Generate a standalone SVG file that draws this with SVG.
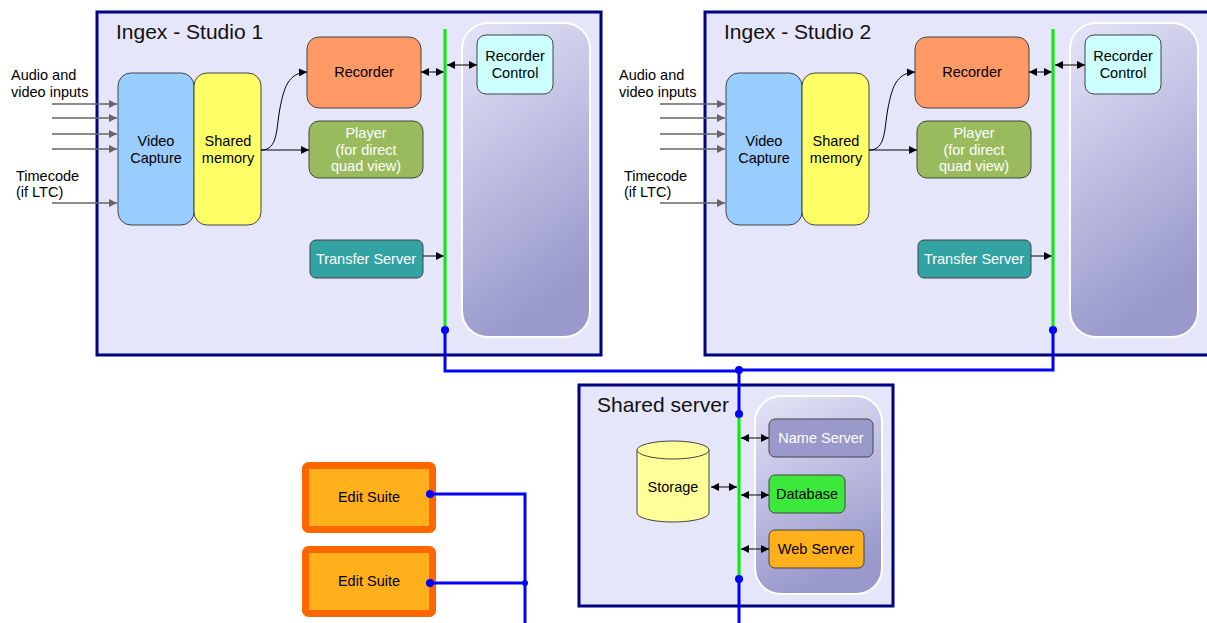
<svg xmlns="http://www.w3.org/2000/svg" width="1207" height="623" viewBox="0 0 1207 623">
<defs>
<linearGradient id="panel" x1="0" y1="0" x2="0.3" y2="1">
<stop offset="0" stop-color="#e4e4f8"/>
<stop offset="1" stop-color="#9999cc"/>
</linearGradient>
<marker id="ah" viewBox="0 0 10 10" refX="10" refY="5" markerWidth="10" markerHeight="8" markerUnits="userSpaceOnUse" orient="auto-start-reverse">
<path d="M0,0 L10,5 L0,10 z" fill="#000"/>
</marker>
<marker id="ahg" viewBox="0 0 10 10" refX="10" refY="5" markerWidth="10" markerHeight="8" markerUnits="userSpaceOnUse" orient="auto">
<path d="M0,0 L10,5 L0,10 z" fill="#666"/>
</marker>
</defs>
<style>
.frame{fill:#e6e6fa;stroke:#000080;stroke-width:3}
.panel{fill:url(#panel);stroke:#fff;stroke-width:2}
.box{stroke:#444;stroke-width:1}
text{font-family:"Liberation Sans",Arial,sans-serif;font-size:14.5px;fill:#000}
.c{text-anchor:middle}
.w{fill:#fff}
.title{font-size:21px;fill:#111}
.bus{stroke:#00ee00;stroke-width:3;fill:none}
.net{stroke:#0000ff;stroke-width:3;fill:none}
.dot{fill:#0000ff}
.arr{stroke:#000;stroke-width:1;fill:none}
.in{stroke:#666;stroke-width:1.5;fill:none}
</style>

<g id="studio1">
<rect class="frame" x="97" y="12" width="504" height="343"/>
<text class="title" x="116" y="39">Ingex - Studio 1</text>
<rect class="panel" x="462" y="23" width="128" height="314" rx="26"/>
</g>
<g id="studio2">
<rect class="frame" x="705" y="12" width="505" height="343"/>
<text class="title" x="724" y="39">Ingex - Studio 2</text>
<rect class="panel" x="1070" y="23" width="128" height="314" rx="26"/>
</g>
<g id="shared-server">
<rect class="frame" x="579" y="385" width="314" height="221"/>
<text class="title" x="597" y="412">Shared server</text>
<rect class="panel" x="755" y="396" width="127" height="198" rx="26"/>
</g>

<g id="s1-capture"><rect class="box" x="118" y="73" width="76" height="152" rx="13" fill="#99ccff"/><text class="c" x="156" y="146">Video</text><text class="c" x="156" y="163">Capture</text></g>
<g id="s1-shm"><rect class="box" x="194" y="73" width="67" height="152" rx="13" fill="#ffff66"/><text class="c" x="228" y="146">Shared</text><text class="c" x="228" y="163">memory</text></g>
<g id="s1-recorder"><rect class="box" x="307" y="37" width="114" height="71" rx="12" fill="#ff9966"/><text class="c" x="364" y="77">Recorder</text></g>
<g id="s1-player"><rect class="box" x="309" y="121" width="114" height="57" rx="10" fill="#99bb5d"/><text class="c w" x="366" y="138">Player</text><text class="c w" x="366" y="155">(for direct</text><text class="c w" x="366" y="171">quad view)</text></g>
<g id="s1-transfer"><rect class="box" x="310" y="240" width="113" height="38" rx="6" fill="#33a2a2"/><text class="c w" x="366" y="264">Transfer Server</text></g>
<g id="s1-control"><rect class="box" x="477" y="35" width="76" height="59" rx="9" fill="#ccffff"/><text class="c" x="515" y="61">Recorder</text><text class="c" x="515" y="78">Control</text></g>

<g id="s2-capture"><rect class="box" x="726" y="73" width="76" height="152" rx="13" fill="#99ccff"/><text class="c" x="764" y="146">Video</text><text class="c" x="764" y="163">Capture</text></g>
<g id="s2-shm"><rect class="box" x="802" y="73" width="67" height="152" rx="13" fill="#ffff66"/><text class="c" x="836" y="146">Shared</text><text class="c" x="836" y="163">memory</text></g>
<g id="s2-recorder"><rect class="box" x="915" y="37" width="114" height="71" rx="12" fill="#ff9966"/><text class="c" x="972" y="77">Recorder</text></g>
<g id="s2-player"><rect class="box" x="917" y="121" width="114" height="57" rx="10" fill="#99bb5d"/><text class="c w" x="974" y="138">Player</text><text class="c w" x="974" y="155">(for direct</text><text class="c w" x="974" y="171">quad view)</text></g>
<g id="s2-transfer"><rect class="box" x="918" y="240" width="113" height="38" rx="6" fill="#33a2a2"/><text class="c w" x="974" y="264">Transfer Server</text></g>
<g id="s2-control"><rect class="box" x="1085" y="35" width="76" height="59" rx="9" fill="#ccffff"/><text class="c" x="1123" y="61">Recorder</text><text class="c" x="1123" y="78">Control</text></g>

<g id="storage">
<path d="M637,450 L637,513 A36,9 0 0 0 709,513 L709,450 Z" fill="#ffff99" stroke="#444" stroke-width="1"/>
<ellipse cx="673" cy="450" rx="36" ry="9" fill="#ffff99" stroke="#444" stroke-width="1"/>
<text class="c" x="673" y="492">Storage</text>
</g>
<g id="name-server"><rect class="box" x="769" y="419" width="104" height="38" rx="6" fill="#9999cc"/><text class="c w" x="821" y="443">Name Server</text></g>
<g id="database"><rect class="box" x="769" y="475" width="76" height="38" rx="6" fill="#3be83b"/><text class="c" x="807" y="499">Database</text></g>
<g id="web-server"><rect class="box" x="769" y="530" width="95" height="38" rx="6" fill="#ffb01b"/><text class="c" x="816" y="554">Web Server</text></g>

<g id="edit1"><rect x="305.5" y="465.5" width="127" height="64" rx="3" fill="#ffb01b" stroke="#ff6600" stroke-width="7"/><text class="c" x="369" y="502">Edit Suite</text></g>
<g id="edit2"><rect x="305.5" y="549.5" width="127" height="64" rx="3" fill="#ffb01b" stroke="#ff6600" stroke-width="7"/><text class="c" x="369" y="586">Edit Suite</text></g>

<g id="labels">
<text x="11" y="80">Audio and</text>
<text x="11" y="97">video inputs</text>
<text x="16" y="181">Timecode</text>
<text x="16" y="197">(if LTC)</text>
<text x="619" y="80">Audio and</text>
<text x="619" y="97">video inputs</text>
<text x="624" y="181">Timecode</text>
<text x="624" y="197">(if LTC)</text>
</g>

<g id="connectors">
<path class="in" d="M52,104 H117" marker-end="url(#ahg)"/>
<path class="in" d="M52,118 H117" marker-end="url(#ahg)"/>
<path class="in" d="M52,134 H117" marker-end="url(#ahg)"/>
<path class="in" d="M52,149 H117" marker-end="url(#ahg)"/>
<path class="in" d="M52,203 H117" marker-end="url(#ahg)"/>
<path class="in" d="M660,104 H725" marker-end="url(#ahg)"/>
<path class="in" d="M660,118 H725" marker-end="url(#ahg)"/>
<path class="in" d="M660,134 H725" marker-end="url(#ahg)"/>
<path class="in" d="M660,149 H725" marker-end="url(#ahg)"/>
<path class="in" d="M660,203 H725" marker-end="url(#ahg)"/>

<path class="arr" d="M261,150 C278,150 276,130 280,108 C284,88 288,73 307,72" marker-end="url(#ah)"/>
<path class="arr" d="M261,150 H309" marker-end="url(#ah)"/>
<path class="arr" d="M869,150 C886,150 884,130 888,108 C892,88 896,73 915,72" marker-end="url(#ah)"/>
<path class="arr" d="M869,150 H917" marker-end="url(#ah)"/>

<path class="arr" d="M421,72 H444" marker-start="url(#ah)" marker-end="url(#ah)"/>
<path class="arr" d="M447,65 H477" marker-start="url(#ah)" marker-end="url(#ah)"/>
<path class="arr" d="M423,256 H444" marker-end="url(#ah)"/>
<path class="arr" d="M1029,72 H1052" marker-start="url(#ah)" marker-end="url(#ah)"/>
<path class="arr" d="M1055,65 H1085" marker-start="url(#ah)" marker-end="url(#ah)"/>
<path class="arr" d="M1031,256 H1052" marker-end="url(#ah)"/>

<path class="arr" d="M711,487 H737" marker-start="url(#ah)" marker-end="url(#ah)"/>
<path class="arr" d="M741,438 H769" marker-start="url(#ah)" marker-end="url(#ah)"/>
<path class="arr" d="M741,495 H769" marker-start="url(#ah)" marker-end="url(#ah)"/>
<path class="arr" d="M741,549 H769" marker-start="url(#ah)" marker-end="url(#ah)"/>

<path class="bus" d="M445,29 V330"/>
<path class="bus" d="M1053,29 V330"/>
<path class="bus" d="M739,414 V579"/>

<path class="net" d="M445,330 V371 H739 M739,370 H1053 V330"/>
<path class="net" d="M739,370 V414 M739,579 V623"/>
<path class="net" d="M430,494 H525 V623 M430,583 H525"/>

<circle class="dot" cx="445" cy="330" r="4"/>
<circle class="dot" cx="1053" cy="330" r="4"/>
<circle class="dot" cx="739" cy="370" r="4"/>
<circle class="dot" cx="739" cy="414" r="4"/>
<circle class="dot" cx="739" cy="579" r="4"/>
<circle class="dot" cx="430" cy="494" r="4"/>
<circle class="dot" cx="430" cy="583" r="4"/>
<circle class="dot" cx="525" cy="583" r="3"/>
</g>
</svg>
